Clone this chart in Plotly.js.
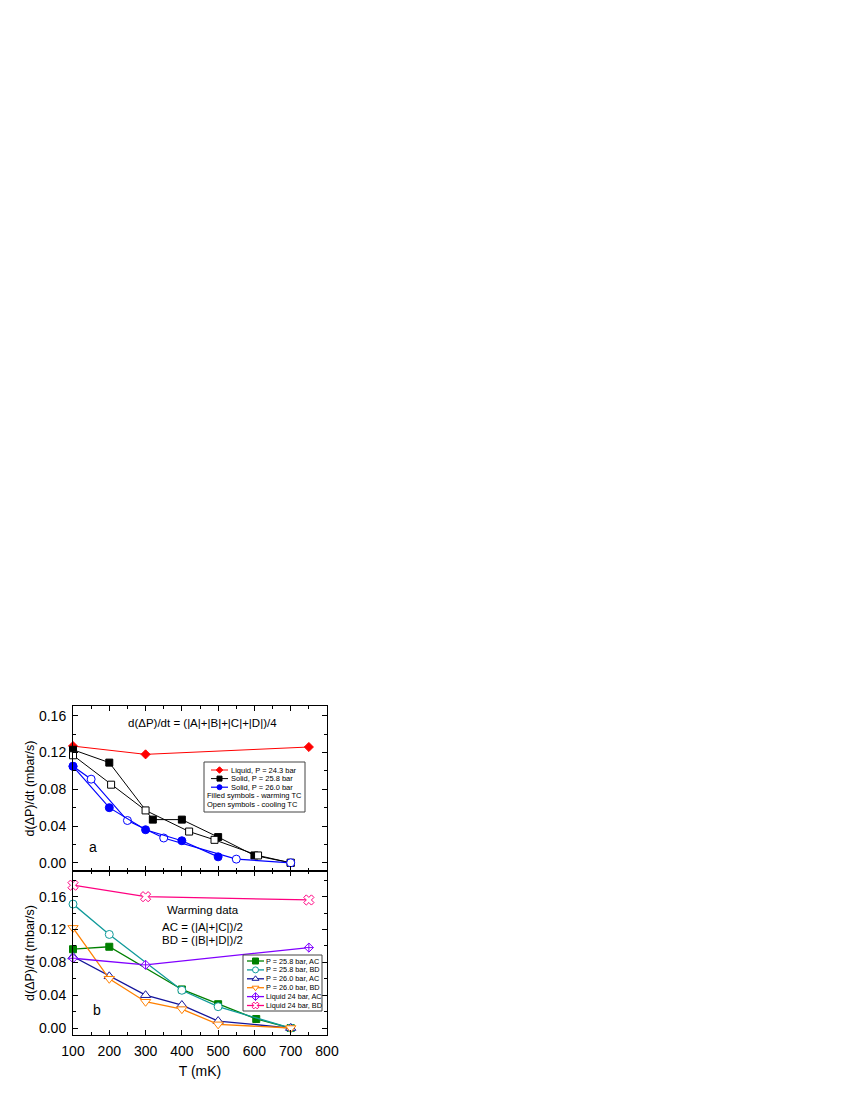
<!DOCTYPE html>
<html>
<head>
<meta charset="utf-8">
<script src="https://cdn.plot.ly/plotly-3.0.1.min.js"></script>
<style>
  body { margin: 0; background: #fff; }
  #chart { width: 850px; height: 1100px; }
</style>
</head>
<body>
<div id="chart"></div>
<script>
// ---- panel a : d(dP)/dt = (|A|+|B|+|C|+|D|)/4 ----
var liqA_T = [100, 300, 750];
var liqA_v = [0.127, 0.118, 0.126];
var s258w_T = [100, 200, 320, 400, 500, 600, 700];
var s258w_v = [0.123, 0.109, 0.047, 0.047, 0.028, 0.008, 0.0];
var s258c_T = [100, 205, 300, 420, 490, 610, 700];
var s258c_v = [0.117, 0.085, 0.057, 0.034, 0.025, 0.008, 0.0];
var s260c_T = [100, 150, 250, 350, 550, 700];
var s260c_v = [0.105, 0.091, 0.046, 0.027, 0.004, 0.0];
var s260w_T = [100, 200, 300, 400, 500];
var s260w_v = [0.105, 0.060, 0.036, 0.024, 0.0065];

// ---- panel b : warming data, AC / BD ----
var b258ac_T = [100, 200, 400, 500, 605, 700];
var b258ac_v = [0.096, 0.099, 0.047, 0.029, 0.011, 0.0];
var b258bd_T = [100, 200, 400, 500, 700];
var b258bd_v = [0.151, 0.114, 0.046, 0.026, 0.0];
var b260ac_T = [100, 200, 300, 400, 500, 700];
var b260ac_v = [0.087, 0.063, 0.040, 0.028, 0.0085, 0.0];
var b260bd_T = [100, 200, 300, 400, 500, 700];
var b260bd_v = [0.122, 0.060, 0.032, 0.023, 0.0045, 0.0];
var liqAC_T = [100, 300, 750];
var liqAC_v = [0.085, 0.077, 0.098];
var liqBD_T = [100, 300, 750];
var liqBD_v = [0.174, 0.160, 0.156];

var legendA_labels = ['Liquid, P = 24.3 bar', 'Solid, P = 25.8 bar', 'Solid, P = 26.0 bar'];
var legendA_notes = ['Filled symbols - warming TC', 'Open symbols - cooling TC'];
var legendB_labels = ['P = 25.8 bar, AC', 'P = 25.8 bar, BD', 'P = 26.0 bar, AC',
                      'P = 26.0 bar, BD', 'Liquid 24 bar, AC', 'Liquid 24 bar, BD'];

var FONT = '"Liberation Sans", Arial, sans-serif';

// styles
var stRed   = {color: '#ff0000', symbol: 'diamond', fill: '#ff0000', size: 7, lw: 1};
var stBlkF  = {color: '#000000', symbol: 'square', fill: '#000000', size: 7, lw: 1};
var stBlkO  = {color: '#000000', symbol: 'square', fill: '#ffffff', size: 7, lw: 1};
var stBluF  = {color: '#0000ff', symbol: 'circle', fill: '#0000ff', size: 8, lw: 1.2};
var stBluO  = {color: '#0000ff', symbol: 'circle', fill: '#ffffff', size: 8, lw: 1.2};
var stGrn   = {color: '#008000', symbol: 'square', fill: '#008000', size: 7, lw: 1.3};
var stTeal  = {color: '#109a9a', symbol: 'circle', fill: '#ffffff', size: 8, lw: 1.3};
var stNavy  = {color: '#14149a', symbol: 'triangle-up', fill: '#ffffff', size: 9, lw: 1.3};
var stOrg   = {color: '#ff8000', symbol: 'triangle-down', fill: '#ffffff', size: 9, lw: 1.3};
var stPur   = {color: '#8000ff', symbol: 'diamond-cross', fill: '#ffffff', size: 7, lw: 1.3};
var stPink  = {color: '#ff0080', symbol: 'x', fill: '#ffffff', size: 9, lw: 1.3};

function series(T, v, st, xa, ya) {
  return {
    x: T, y: v, xaxis: xa, yaxis: ya,
    type: 'scatter', mode: 'lines+markers', cliponaxis: false, hoverinfo: 'skip',
    line: {color: st.color, width: st.lw},
    marker: {symbol: st.symbol, size: st.size, color: st.fill, line: {color: st.color, width: 1}}
  };
}

// legend sample: short line with a symbol in the middle, drawn on the pixel overlay axes
function sample(st, x0, x1, yy, size) {
  return {
    x: [x0, (x0 + x1) / 2, x1], y: [yy, yy, yy], xaxis: 'x3', yaxis: 'y3',
    type: 'scatter', mode: 'lines+markers', cliponaxis: false, hoverinfo: 'skip',
    line: {color: st.color, width: st.lw},
    marker: {symbol: st.symbol, size: size, color: st.fill, opacity: [0, 1, 0],
             line: {color: st.color, width: 1}}
  };
}

var data = [
  series(liqA_T, liqA_v, stRed, 'x', 'y'),
  series(s258w_T, s258w_v, stBlkF, 'x', 'y'),
  series(s258c_T, s258c_v, stBlkO, 'x', 'y'),
  series(s260c_T, s260c_v, stBluO, 'x', 'y'),
  series(s260w_T, s260w_v, stBluF, 'x', 'y'),

  series(b258ac_T, b258ac_v, stGrn, 'x2', 'y2'),
  series(b258bd_T, b258bd_v, stTeal, 'x2', 'y2'),
  series(b260ac_T, b260ac_v, stNavy, 'x2', 'y2'),
  series(b260bd_T, b260bd_v, stOrg, 'x2', 'y2'),
  series(liqAC_T, liqAC_v, stPur, 'x2', 'y2'),
  series(liqBD_T, liqBD_v, stPink, 'x2', 'y2')
];

var annotations = [];
var legA_st = [stRed, stBlkF, stBluF];
for (var i = 0; i < legendA_labels.length; i++) {
  var yy = 770 + i * 8.6;
  data.push(sample(legA_st[i], 211, 228, yy, 5));
  annotations.push({xref: 'x3', yref: 'y3', x: 228.5, y: yy, text: legendA_labels[i],
    xanchor: 'left', yanchor: 'middle', showarrow: false, font: {size: 7.5}});
}
for (var j = 0; j < legendA_notes.length; j++) {
  annotations.push({xref: 'x3', yref: 'y3', x: 204.5, y: 770 + (3 + j) * 8.6, text: legendA_notes[j],
    xanchor: 'left', yanchor: 'middle', showarrow: false, font: {size: 7.5}});
}
var legB_st = [stGrn, stTeal, stNavy, stOrg, stPur, stPink];
for (var k = 0; k < legendB_labels.length; k++) {
  var yb = 961 + k * 8.9;
  data.push(sample(legB_st[k], 247, 264, yb, 6));
  annotations.push({xref: 'x3', yref: 'y3', x: 264, y: yb, text: legendB_labels[k],
    xanchor: 'left', yanchor: 'middle', showarrow: false, font: {size: 7.3}});
}

// panel texts
annotations.push(
  {xref: 'x', yref: 'y', x: 458, y: 0.152, text: 'd(\u0394P)/dt = (|A|+|B|+|C|+|D|)/4', showarrow: false, font: {size: 11.5}},
  {xref: 'x', yref: 'y', x: 155, y: 0.017, text: 'a', showarrow: false, font: {size: 14}},
  {xref: 'x2', yref: 'y2', x: 458, y: 0.1438, text: 'Warming data', showarrow: false, font: {size: 11.5}},
  {xref: 'x2', yref: 'y2', x: 458, y: 0.1225, text: 'AC = (|A|+|C|)/2', showarrow: false, font: {size: 11.5}},
  {xref: 'x2', yref: 'y2', x: 458, y: 0.1068, text: 'BD = (|B|+|D|)/2', showarrow: false, font: {size: 11.5}},
  {xref: 'x2', yref: 'y2', x: 165, y: 0.022, text: 'b', showarrow: false, font: {size: 14}}
);

var xCommon = {
  range: [100, 800], dtick: 100, tick0: 0,
  ticks: 'inside', ticklen: 5, tickcolor: 'black',
  showline: true, linecolor: 'black', linewidth: 1, mirror: 'allticks',
  showgrid: false, zeroline: false,
  tickfont: {size: 14}, ticklabelstandoff: 3,
  minor: {ticks: 'inside', ticklen: 3, dtick: 50, tickcolor: 'black'}
};
var yCommon = {
  dtick: 0.04, tick0: 0, tickformat: '.2f',
  ticks: 'inside', ticklen: 5, tickcolor: 'black',
  showline: true, linecolor: 'black', linewidth: 1, mirror: 'allticks',
  showgrid: false, zeroline: false,
  tickfont: {size: 14}, ticklabelstandoff: 3,
  minor: {ticks: 'inside', ticklen: 3, dtick: 0.02, tickcolor: 'black'},
  title: {text: 'd(\u0394P)/dt (mbar/s)', font: {size: 12.5}}
};

var layout = {
  width: 850, height: 1100,
  margin: {l: 73, r: 523, t: 706, b: 65},
  paper_bgcolor: 'white', plot_bgcolor: 'rgba(0,0,0,0)',
  showlegend: false,
  font: {family: FONT, color: 'black'},
  xaxis: Object.assign({}, xCommon, {anchor: 'y', showticklabels: false}),
  xaxis2: Object.assign({}, xCommon, {anchor: 'y2', title: {text: 'T (mK)', font: {size: 14}, standoff: 8}}),
  yaxis: Object.assign({}, yCommon, {domain: [0.4985, 1], anchor: 'x', range: [-0.0089, 0.1706]}),
  yaxis2: Object.assign({}, yCommon, {domain: [0, 0.4985], anchor: 'x2', range: [-0.0085, 0.1913]}),
  // overlay axes in page pixels, used only to place the hand-drawn legends
  xaxis3: {domain: [0, 1], anchor: 'y3', range: [73, 327], visible: false, fixedrange: true},
  yaxis3: {domain: [0, 1], anchor: 'x3', range: [1035, 706], visible: false, fixedrange: true},
  shapes: [
    {type: 'rect', xref: 'x3', yref: 'y3', x0: 204, x1: 305, y0: 762, y1: 812, line: {color: '#444', width: 1}},
    {type: 'rect', xref: 'x3', yref: 'y3', x0: 243, x1: 322, y0: 955, y1: 1011, line: {color: '#444', width: 1}}
  ],
  annotations: annotations
};

Plotly.newPlot('chart', data, layout, {staticPlot: true});
</script>
</body>
</html>
